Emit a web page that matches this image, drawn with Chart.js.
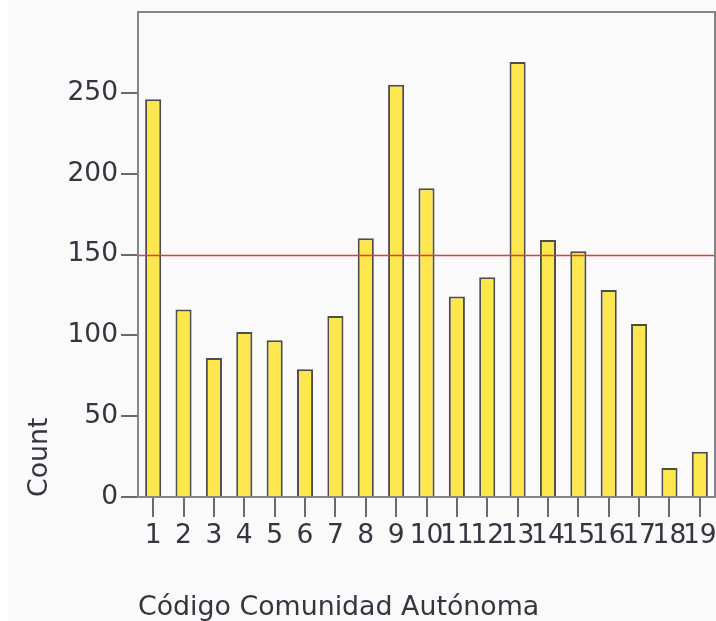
<!DOCTYPE html>
<html>
<head>
<meta charset="utf-8">
<script src="https://cdn.jsdelivr.net/npm/chart.js@4/dist/chart.umd.min.js"></script>
<style>
  html, body { margin: 0; padding: 0; background: #fafafa; }
  #wrap { width: 716px; height: 621px; position: relative; }
</style>
</head>
<body>
<div id="wrap"><canvas id="c" width="716" height="621"></canvas></div>
<script>
const categories = ['1','2','3','4','5','6','7','8','9','10','11','12','13','14','15','16','17','18','19'];
const counts = [246, 116, 86, 102, 97, 79, 112, 160, 255, 191, 124, 136, 269, 159, 152, 128, 107, 18, 28];
const referenceLine = 150;
const yTicks = [0, 50, 100, 150, 200, 250];
const xTitle = 'Código Comunidad Autónoma';
const yTitle = 'Count';

const bgPlugin = {
  id: 'bg',
  beforeDraw(chart) {
    const ctx = chart.ctx;
    ctx.save();
    ctx.fillStyle = '#ffffff';
    ctx.fillRect(0, 0, chart.width, chart.height);
    ctx.fillStyle = '#fafafa';
    ctx.fillRect(8, 0, chart.width - 8, chart.height);
    ctx.restore();
  }
};

const framePlugin = {
  id: 'frame',
  afterDatasetsDraw(chart) {
    const {ctx, chartArea: a, scales} = chart;
    ctx.save();
    const y = Math.round(scales.y.getPixelForValue(referenceLine)) + 0.5;
    ctx.strokeStyle = '#e8383b';
    ctx.lineWidth = 1.5;
    ctx.beginPath();
    ctx.moveTo(a.left, y);
    ctx.lineTo(a.right + 2, y);
    ctx.stroke();
    ctx.strokeStyle = '#858585';
    ctx.lineWidth = 2;
    ctx.beginPath();
    ctx.moveTo(a.left, a.bottom);
    ctx.lineTo(a.left, a.top);
    ctx.lineTo(a.right, a.top);
    ctx.lineTo(a.right, a.bottom);
    ctx.stroke();
    ctx.restore();
  }
};

const tickFont = { family: 'DejaVu Sans', size: 26.5, lineHeight: 1 };
const titleFont = { family: 'DejaVu Sans', size: 26.8, lineHeight: 1 };
const textColor = '#353540';

new Chart(document.getElementById('c'), {
  type: 'bar',
  data: {
    labels: categories,
    datasets: [{
      data: counts,
      backgroundColor: '#fde74c',
      borderColor: '#4d4d4d',
      borderWidth: 2,
      categoryPercentage: 1.0,
      barPercentage: 0.53
    }]
  },
  options: {
    responsive: false,
    animation: false,
    devicePixelRatio: 1,
    layout: { padding: { top: 12, right: 1, left: 0, bottom: 0 } },
    plugins: { legend: { display: false }, tooltip: { enabled: false } },
    scales: {
      x: {
        offset: true,
        grid: { offset: false, drawOnChartArea: false, drawTicks: true, tickLength: 20, color: '#6a6a6a', lineWidth: 2 },
        border: { display: true, color: '#858585', width: 2 },
        ticks: { autoSkip: false, maxRotation: 0, minRotation: 0, padding: 6, color: textColor, font: tickFont },
        title: { display: true, text: xTitle, align: 'start', color: textColor, font: titleFont, padding: 0 },
        afterFit(scale) { scale.height = 124; scale.paddingLeft = 0; scale.paddingRight = 0; }
      },
      y: {
        min: 0, max: 300,
        afterBuildTicks(scale) { scale.ticks = yTicks.map(v => ({ value: v })); },
        grid: { drawOnChartArea: false, drawTicks: true, tickLength: 17, color: '#6a6a6a', lineWidth: 2 },
        border: { display: true, color: '#858585', width: 2 },
        ticks: { padding: 3, color: textColor, font: tickFont },
        title: { display: true, text: yTitle, align: 'start', color: textColor, font: titleFont, padding: { top: 27, bottom: 0 } },
        afterFit(scale) { scale.width = 138; scale.paddingTop = 0; scale.paddingBottom = 0; }
      }
    }
  },
  plugins: [bgPlugin, framePlugin]
});
</script>
</body>
</html>
